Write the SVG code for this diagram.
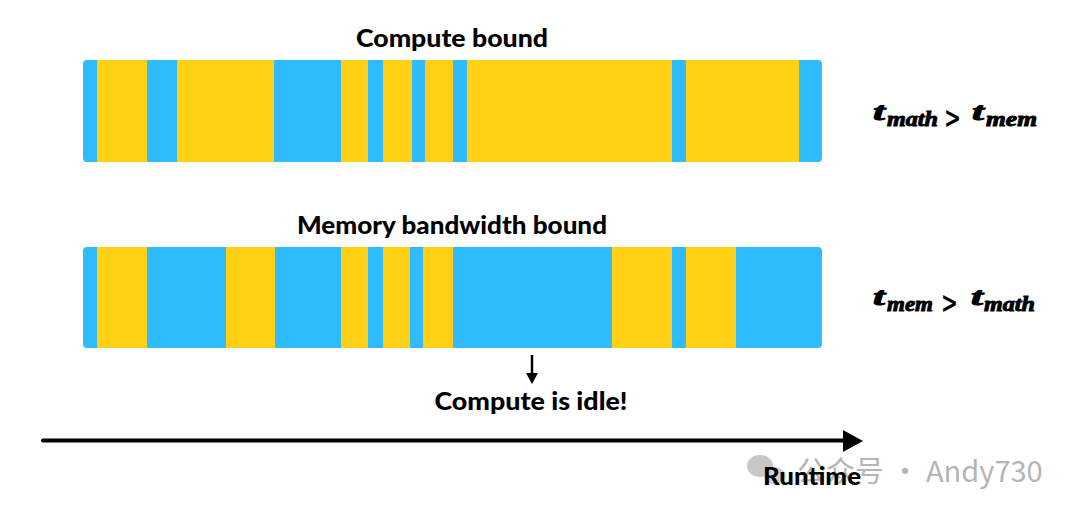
<svg xmlns="http://www.w3.org/2000/svg" width="1080" height="514" viewBox="0 0 1080 514">
  <defs>
    <style>
      .blue { fill: #30BBFF; }
      .yel { fill: #FFD014; }
      .title { font-family: Lato, "Liberation Sans", sans-serif; font-weight: 900; font-size: 24px; fill: #000; }
      .math { font-family: "Liberation Serif", serif; font-style: italic; font-weight: bold; fill: #000; stroke: #000; stroke-width: 0.9; font-size: 25px; }
      .sub { font-size: 20px; }
      .gt { font-family: "DejaVu Sans", sans-serif; font-weight: bold; font-size: 30px; fill: #000; }
      .wm { font-family: "Noto Sans CJK SC", "Noto Sans", sans-serif; font-size: 29px; fill: #b5b5b5; }
    </style>
  </defs>
  <rect width="1080" height="514" fill="#fff"/>

  <g id="watermark">
    <ellipse cx="760" cy="466" rx="13" ry="11" fill="#c8c8c8"/>
    <ellipse cx="775" cy="476" rx="11" ry="9" fill="#d2d2d2"/>
    <text class="wm" x="797" y="482">公众号 · Andy730</text>
  </g>

  <g id="title-compute">
    <text class="title" x="452" y="47" text-anchor="middle" textLength="192" lengthAdjust="spacingAndGlyphs">Compute bound</text>
  </g>

  <g id="bar-compute">
    <rect class="blue" x="83" y="60" width="739" height="102" rx="4"/>
    <rect class="yel" x="97" y="60" width="50" height="102"/>
    <rect class="yel" x="177" y="60" width="97" height="102"/>
    <rect class="yel" x="341" y="60" width="27" height="102"/>
    <rect class="yel" x="383" y="60" width="29" height="102"/>
    <rect class="yel" x="425" y="60" width="28" height="102"/>
    <rect class="yel" x="467" y="60" width="205" height="102"/>
    <rect class="yel" x="686" y="60" width="113" height="102"/>
  </g>

  <g id="label-compute">
    <text class="math" x="873" y="120" textLength="12" lengthAdjust="spacingAndGlyphs">t</text>
    <text class="math sub" x="887" y="126" textLength="51" lengthAdjust="spacingAndGlyphs">math</text>
    <text class="gt" x="944" y="128" textLength="17" lengthAdjust="spacingAndGlyphs">&gt;</text>
    <text class="math" x="972" y="120" textLength="12" lengthAdjust="spacingAndGlyphs">t</text>
    <text class="math sub" x="986" y="126" textLength="51" lengthAdjust="spacingAndGlyphs">mem</text>
  </g>

  <g id="title-memory">
    <text class="title" x="452" y="234" text-anchor="middle" textLength="310" lengthAdjust="spacingAndGlyphs">Memory bandwidth bound</text>
  </g>

  <g id="bar-memory">
    <rect class="blue" x="83" y="247" width="739" height="101" rx="4"/>
    <rect class="yel" x="97" y="247" width="50" height="101"/>
    <rect class="yel" x="226" y="247" width="49" height="101"/>
    <rect class="yel" x="341" y="247" width="27" height="101"/>
    <rect class="yel" x="383" y="247" width="27" height="101"/>
    <rect class="yel" x="423" y="247" width="30" height="101"/>
    <rect class="yel" x="612" y="247" width="60" height="101"/>
    <rect class="yel" x="686" y="247" width="50" height="101"/>
  </g>

  <g id="label-memory">
    <text class="math" x="873" y="305" textLength="12" lengthAdjust="spacingAndGlyphs">t</text>
    <text class="math sub" x="887" y="311" textLength="46" lengthAdjust="spacingAndGlyphs">mem</text>
    <text class="gt" x="941" y="313" textLength="17" lengthAdjust="spacingAndGlyphs">&gt;</text>
    <text class="math" x="971" y="305" textLength="12" lengthAdjust="spacingAndGlyphs">t</text>
    <text class="math sub" x="984" y="311" textLength="51" lengthAdjust="spacingAndGlyphs">math</text>
  </g>

  <g id="label-idle">
    <text class="title" x="531" y="410" text-anchor="middle" textLength="193" lengthAdjust="spacingAndGlyphs">Compute is idle!</text>
  </g>

  <g id="label-runtime">
    <text class="title" x="812" y="485" text-anchor="middle" font-size="22" textLength="98" lengthAdjust="spacingAndGlyphs">Runtime</text>
  </g>

  <g id="connectors">
    <line x1="532" y1="355" x2="532" y2="375" stroke="#000" stroke-width="2.5"/>
    <path d="M526,373 L538,373 L532,384 z" fill="#000"/>
    <line x1="43" y1="440.5" x2="846" y2="440.5" stroke="#000" stroke-width="4" stroke-linecap="round"/>
    <path d="M843,430 L863,441 L843,452 z" fill="#000"/>
  </g>
</svg>
